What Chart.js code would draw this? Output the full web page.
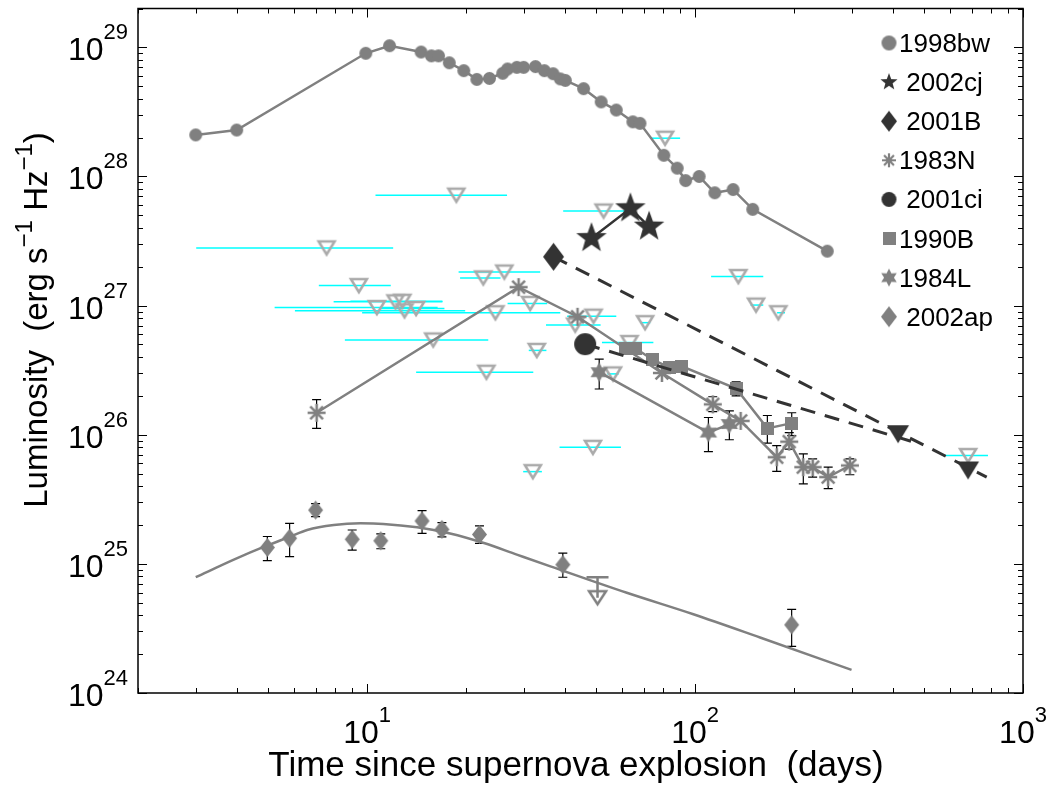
<!DOCTYPE html>
<html>
<head>
<meta charset="utf-8">
<script src="https://cdn.jsdelivr.net/npm/chart.js@4.4.0/dist/chart.umd.min.js"></script>
<style>
  html, body { margin: 0; padding: 0; background: #fff; }
  #wrap { width: 1052px; height: 788px; }
</style>
</head>
<body>
<div id="wrap"><canvas id="grafico" width="1052" height="788"></canvas></div>
<script>
// ---- data (days since explosion, luminosity in erg/s/Hz) ----
const xTickPowers = [1, 2, 3];
const yTickPowers = [24, 25, 26, 27, 28, 29];
const legendLabels = ['1998bw', ' 2002cj', ' 2001B', '1983N', ' 2001ci', '1990B', '1984L', ' 2002ap'];

const bwDays = [3.0, 4.0, 9.9, 11.7, 14.6, 15.7, 16.5, 17.8, 19.7, 21.6, 23.6, 25.9, 26.8, 28.6, 30.0, 32.6, 34.7, 36.9, 38.8, 40.2, 45.7, 51.7, 57.5, 64.6, 67.9, 80.3, 88.2, 93.6, 102.9, 114.8, 130.6, 149.9, 253];
const bwLum = [2.10e28, 2.29e28, 9.0e28, 1.03e29, 9.2e28, 8.6e28, 8.6e28, 7.6e28, 6.6e28, 5.65e28, 5.75e28, 6.3e28, 6.8e28, 7.0e28, 7.0e28, 7.1e28, 6.6e28, 6.25e28, 5.7e28, 5.55e28, 4.79e28, 3.78e28, 3.27e28, 2.65e28, 2.58e28, 1.46e28, 1.16e28, 9.3e27, 1.0e28, 7.48e27, 7.93e27, 5.57e27, 2.64e27];

const cjDays = [48.3, 63.5, 72.4];
const cjLum = [3.33e27, 5.67e27, 4.09e27];

const bDays = [37.0];
const bLum = [2.39e27];
const bTrendDays = [37.0, 775];
const bTrendLum = [2.39e27, 4.7e25];

const ciDays = [46.2];
const ciLum = [5.03e26];
const ciTrendDays = [46.2, 468];
const ciTrendLum = [5.03e26, 8.73e25];

const lateDays = [416, 680];
const lateLum = [1.01e26, 5.29e25];

const nDays = [7.01, 28.96, 43.8, 79.2, 113.2, 137.7, 177.4, 193.7, 213.8, 228.3, 254.6, 296.5];
const nLum = [1.48e26, 1.39e27, 8.2e26, 3.01e26, 1.72e26, 1.28e26, 6.7e25, 8.84e25, 5.61e25, 5.61e25, 4.7e25, 5.78e25];
const nLo = [1.12e26, null, null, null, 1.51e26, null, 5.2e25, 7.75e25, 4.17e25, 4.7e25, 3.82e25, 4.9e25];
const nHi = [1.87e26, null, null, null, 1.97e26, null, 8.23e25, 1.04e26, 7.1e25, 6.5e25, 5.61e25, 6.5e25];

const b90Days = [61.2, 65.7, 74.3, 83.3, 91.1, 133.4, 166.1, 197.1];
const b90Lum = [4.68e26, 4.68e26, 3.81e26, 3.33e26, 3.39e26, 2.28e26, 1.12e26, 1.23e26];
const b90Lo = [null, null, null, null, null, 2.0e26, 8.62e25, 9.83e25];
const b90Hi = [null, null, null, null, null, 2.57e26, 1.41e26, 1.48e26];

const lDays = [51.0, 109.8, 127.2];
const lLum = [3.05e26, 1.04e26, 1.21e26];
const lLo = [2.26e26, 7.4e25, 9.15e25];
const lHi = [3.85e26, 1.36e26, 1.53e26];

const apDays = [4.96, 5.80, 6.96, 9.0, 11.0, 14.7, 16.9, 22.0, 39.5, 197.0];
const apLum = [1.34e25, 1.58e25, 2.61e25, 1.55e25, 1.51e25, 2.15e25, 1.85e25, 1.69e25, 9.86e24, 3.37e24];
const apLo = [1.06e25, 1.14e25, 2.32e25, 1.28e25, 1.31e25, 1.72e25, 1.62e25, 1.44e25, 7.88e24, 2.3e24];
const apHi = [1.63e25, 2.06e25, 2.93e25, 1.83e25, 1.71e25, 2.58e25, 2.09e25, 1.97e25, 1.21e25, 4.45e24];

const apModelDays = [3.0, 3.92, 4.96, 5.80, 6.56, 7.91, 9.54, 11.2, 14.2, 17.9, 22.7, 28.6, 36.2, 61.9, 98.8, 157.8, 300];
const apModelLum = [7.88e24, 1.08e25, 1.39e25, 1.62e25, 1.83e25, 2.0e25, 2.06e25, 2.04e25, 1.92e25, 1.72e25, 1.45e25, 1.18e25, 9.57e24, 5.97e24, 4.07e24, 2.69e24, 1.51e24];

const apLimDays = [50.4];
const apLimLum = [5.47e24];
const apLimTop = [7.87e24];

// upper limits from the survey: triangle + observing window
const limDays = [18.7, 7.52, 9.43, 10.7, 12.2, 12.8, 13.0, 14.1, 15.9, 22.6, 26.2, 24.6, 31.4, 23.1, 32.9, 32.0, 43.1, 49.0, 63.1, 56.2, 70.4, 48.8, 52.6, 81.0, 135.5, 153.4, 179.4, 680];
const limLum = [7.17e27, 2.80e27, 1.43e27, 9.67e26, 1.07e27, 1.08e27, 9.12e26, 9.5e26, 5.42e26, 1.64e27, 1.82e27, 8.81e26, 1.04e27, 3.05e26, 4.5e26, 5.18e25, 7.07e26, 8.29e26, 5.18e26, 2.96e26, 7.38e26, 7.99e25, 5.4e27, 1.98e28, 1.68e27, 1.01e27, 8.81e26, 6.9e25];
const limFrom = [10.6, 3.01, 7.12, 5.22, 7.90, 8.89, 6.02, 11.0, 8.55, 19.2, 19.0, 9.65, 26.8, 14.1, 31.1, 29.9, 35.1, 40.7, 52.0, 54.0, 68.0, 38.6, 39.6, 73.0, 111.9, 147.6, 177.8, 570.6];
const limTo = [26.7, 12.0, 11.8, 16.4, 16.96, 16.96, 19.9, 17.2, 23.4, 25.5, 33.7, 38.8, 35.4, 32.1, 35.2, 34.1, 51.5, 57.5, 74.6, 58.5, 73.0, 59.4, 64.3, 90.0, 161.4, 161.4, 188, 782];

// ---- markers ----
const FONT = '"Liberation Sans", Arial, Helvetica, sans-serif';
const GRAY = '#808080', DARK = '#333333', LIGHT = '#aaaaaa', CYAN = '#00ffff';

function makeMarker(w, h, paint) {
    const c = document.createElement('canvas');
    c.width = w; c.height = h;
    paint(c.getContext('2d'), w, h);
    return c;
}
function circleMarker(d, color) {
    return makeMarker(d + 2, d + 2, (g, w, h) => {
        g.fillStyle = color; g.beginPath(); g.arc(w / 2, h / 2, d / 2, 0, 2 * Math.PI); g.fill();
    });
}
function squareMarker(s, color) {
    return makeMarker(s, s, (g) => { g.fillStyle = color; g.fillRect(0, 0, s, s); });
}
function starMarker(n, rOut, rIn, color) {
    const s = Math.ceil(rOut * 2) + 2;
    return makeMarker(s, s, (g, w, h) => {
        g.fillStyle = color; g.beginPath();
        for (let i = 0; i < 2 * n; i++) {
            const r = i % 2 ? rIn : rOut;
            const a = -Math.PI / 2 + i * Math.PI / n;
            g.lineTo(w / 2 + r * Math.cos(a), h / 2 + r * Math.sin(a));
        }
        g.closePath(); g.fill();
    });
}
function diamondMarker(dw, dh, color) {
    return makeMarker(dw + 2, dh + 2, (g, w, h) => {
        g.fillStyle = color; g.beginPath();
        g.moveTo(w / 2, 1); g.lineTo(w - 1, h / 2); g.lineTo(w / 2, h - 1); g.lineTo(1, h / 2);
        g.closePath(); g.fill();
    });
}
function asteriskMarker(r, color, lw) {
    const s = Math.ceil(r * 2) + 4;
    return makeMarker(s, s, (g, w, h) => {
        g.strokeStyle = color; g.lineWidth = lw; g.beginPath();
        for (let i = 0; i < 4; i++) {
            const a = i * Math.PI / 4;
            g.moveTo(w / 2 - r * Math.cos(a), h / 2 - r * Math.sin(a));
            g.lineTo(w / 2 + r * Math.cos(a), h / 2 + r * Math.sin(a));
        }
        g.stroke();
    });
}
function triangleMarker(tw, th, color, filled, lw) {
    const pad = filled ? 1 : Math.ceil(lw);
    return makeMarker(tw + 2 * pad, th + 2 * pad, (g, w, h) => {
        g.beginPath();
        g.moveTo(pad, pad); g.lineTo(w - pad, pad); g.lineTo(w / 2, h - pad); g.closePath();
        if (filled) { g.fillStyle = color; g.fill(); }
        else { g.strokeStyle = color; g.lineWidth = lw; g.stroke(); }
    });
}

const mk = {
    bw: circleMarker(13, GRAY),
    cj: starMarker(5, 16, 6.6, DARK),
    b: diamondMarker(21, 28, DARK),
    n: asteriskMarker(9, GRAY, 2.5),
    ci: circleMarker(22, DARK),
    b90: squareMarker(13, GRAY),
    l: starMarker(6, 10, 5.5, GRAY),
    ap: diamondMarker(15, 19, GRAY),
    lim: triangleMarker(16, 13, LIGHT, false, 2.5),
    late: triangleMarker(22, 18, DARK, true),
    apLim: triangleMarker(17, 13, GRAY, false, 2.5)
};
const legendMarks = [
    circleMarker(15, GRAY),
    starMarker(5, 9, 3.8, DARK),
    diamondMarker(16, 21, DARK),
    asteriskMarker(7, GRAY, 2.2),
    circleMarker(15, DARK),
    squareMarker(13, GRAY),
    starMarker(6, 9, 4.9, GRAY),
    diamondMarker(16, 21, GRAY)
];

function pts(xs, ys) {
    return xs.map((x, i) => ({ x: x, y: ys[i] }));
}

// text with superscripts: parts = [[text, isSup], ...]
function drawParts(c, parts, x, y, align, base, sup, rise) {
    let total = 0;
    parts.forEach(p => {
        c.font = (p[1] ? sup : base) + 'px ' + FONT;
        total += c.measureText(p[0]).width;
    });
    let cx = align === 'center' ? x - total / 2 : (align === 'right' ? x - total : x);
    c.textAlign = 'left';
    c.textBaseline = 'alphabetic';
    parts.forEach(p => {
        c.font = (p[1] ? sup : base) + 'px ' + FONT;
        c.fillText(p[0], cx, p[1] ? y - rise : y);
        cx += c.measureText(p[0]).width;
    });
}

const extras = {
    id: 'extras',
    beforeDatasetsDraw(chart) {
        const c = chart.ctx, xs = chart.scales.x, ys = chart.scales.y;
        c.save();
        // observing windows of the upper limits
        c.strokeStyle = CYAN;
        c.lineWidth = 1.5;
        for (let i = 0; i < limDays.length; i++) {
            const y = ys.getPixelForValue(limLum[i]);
            c.beginPath();
            c.moveTo(xs.getPixelForValue(limFrom[i]), y);
            c.lineTo(xs.getPixelForValue(limTo[i]), y);
            c.stroke();
        }
        // error bars
        chart.data.datasets.forEach(ds => {
            if (!ds.errLo) return;
            c.strokeStyle = ds.errColor || '#000';
            c.lineWidth = ds.errWidth || 1.2;
            const cap = ds.errCap || 4.5;
            ds.data.forEach((p, i) => {
                const lo = ds.errLo[i], hi = ds.errHi[i];
                if (lo == null || hi == null) return;
                const x = xs.getPixelForValue(p.x);
                const y1 = ys.getPixelForValue(lo), y2 = ys.getPixelForValue(hi);
                c.beginPath();
                c.moveTo(x, y1); c.lineTo(x, y2);
                c.moveTo(x - cap, y2); c.lineTo(x + cap, y2);
                if (ds.errLowCap !== false) { c.moveTo(x - cap, y1); c.lineTo(x + cap, y1); }
                c.stroke();
            });
        });
        c.restore();
    },
    afterDraw(chart) {
        const c = chart.ctx, a = chart.chartArea, xs = chart.scales.x, ys = chart.scales.y;
        c.save();
        c.strokeStyle = '#000';
        c.lineWidth = 1.5;
        c.strokeRect(a.left, a.top, a.right - a.left, a.bottom - a.top);
        c.lineWidth = 1;
        c.beginPath();
        for (let k = 0; k <= 3; k++) {
            for (let m = 1; m <= 9; m++) {
                const v = m * Math.pow(10, k);
                if (v < xs.min || v > xs.max) continue;
                const x = Math.round(xs.getPixelForValue(v)) + 0.5;
                const len = m === 1 ? 9 : 5;
                c.moveTo(x, a.bottom); c.lineTo(x, a.bottom - len);
                c.moveTo(x, a.top); c.lineTo(x, a.top + len);
            }
        }
        for (let k = 24; k <= 29; k++) {
            for (let m = 1; m <= 9; m++) {
                const v = m * Math.pow(10, k);
                if (v < ys.min * 0.999 || v > ys.max) continue;
                const y = Math.round(ys.getPixelForValue(v)) + 0.5;
                const len = m === 1 ? 9 : 5;
                c.moveTo(a.left, y); c.lineTo(a.left + len, y);
                c.moveTo(a.right, y); c.lineTo(a.right - len, y);
            }
        }
        c.stroke();

        c.fillStyle = '#000';
        xTickPowers.forEach(p => {
            drawParts(c, [['10', false], [String(p), true]], xs.getPixelForValue(Math.pow(10, p)), 743, 'center', 32, 22, 21);
        });
        yTickPowers.forEach(p => {
            drawParts(c, [['10', false], [String(p), true]], 128, ys.getPixelForValue(Math.pow(10, p)) + 13, 'right', 32, 22, 21);
        });

        // axis titles
        drawParts(c, [['Time since supernova explosion  (days)', false]], 576, 776, 'center', 35, 24, 0);
        c.save();
        c.translate(47, 320);
        c.rotate(-Math.PI / 2);
        drawParts(c, [['Luminosity  (erg s', false], ['\u22121', true], [' Hz', false], ['\u22121', true], [')', false]], 0, 0, 'center', 33, 24, 15);
        c.restore();

        // legend
        legendLabels.forEach((t, i) => {
            const y = 43 + i * 39.1;
            const m = legendMarks[i];
            c.drawImage(m, 889 - m.width / 2, y - m.height / 2);
            drawParts(c, [[t, false]], 899, y + 9, 'left', 26, 18, 0);
        });
        c.restore();
    }
};

const ctx = document.getElementById('grafico');

new Chart(ctx, {
    type: 'scatter',
    data: {
        datasets: [
            { label: 'late limits', data: pts(lateDays, lateLum), pointStyle: mk.late, pointRadius: 6, order: 1 },
            { label: '2002cj', data: pts(cjDays, cjLum), showLine: true, borderColor: DARK, borderWidth: 2.5, pointStyle: mk.cj, pointRadius: 6, order: 2 },
            { label: '2001B', data: pts(bDays, bLum), pointStyle: mk.b, pointRadius: 6, order: 2 },
            { label: '2001ci', data: pts(ciDays, ciLum), pointStyle: mk.ci, pointRadius: 6, order: 2 },
            { label: '2001B trend', data: pts(bTrendDays, bTrendLum), showLine: true, borderColor: DARK, borderWidth: 3, borderDash: [15, 10], pointRadius: 0, order: 3 },
            { label: '2001ci trend', data: pts(ciTrendDays, ciTrendLum), showLine: true, borderColor: DARK, borderWidth: 3, borderDash: [15, 10], pointRadius: 0, order: 3 },
            { label: '1990B', data: pts(b90Days, b90Lum), showLine: true, borderColor: GRAY, borderWidth: 2.5, pointStyle: mk.b90, pointRadius: 5, errLo: b90Lo, errHi: b90Hi, order: 4 },
            { label: '1983N', data: pts(nDays, nLum), showLine: true, borderColor: GRAY, borderWidth: 2.5, pointStyle: mk.n, pointRadius: 5, errLo: nLo, errHi: nHi, order: 5 },
            { label: '1984L', data: pts(lDays, lLum), showLine: true, borderColor: GRAY, borderWidth: 2.5, pointStyle: mk.l, pointRadius: 5, errLo: lLo, errHi: lHi, order: 5 },
            { label: '1998bw', data: pts(bwDays, bwLum), showLine: true, borderColor: GRAY, borderWidth: 2.5, pointStyle: mk.bw, pointRadius: 5, order: 5 },
            { label: '2002ap', data: pts(apDays, apLum), pointStyle: mk.ap, pointRadius: 5, errLo: apLo, errHi: apHi, order: 5 },
            { label: '2002ap model', data: pts(apModelDays, apModelLum), showLine: true, borderColor: GRAY, borderWidth: 2.5, cubicInterpolationMode: 'monotone', pointRadius: 0, order: 6 },
            { label: '2002ap limit', data: pts(apLimDays, apLimLum), pointStyle: mk.apLim, pointRadius: 5, errLo: apLimLum, errHi: apLimTop, errColor: GRAY, errWidth: 2.5, errCap: 11, errLowCap: false, order: 6 },
            { label: 'limits', data: pts(limDays, limLum), pointStyle: mk.lim, pointRadius: 5, order: 8 }
        ]
    },
    options: {
        responsive: false,
        animation: false,
        layout: { padding: { left: 138, right: 29, top: 3, bottom: 95 } },
        scales: {
            x: { type: 'logarithmic', min: 2, max: 1000, display: false },
            y: { type: 'logarithmic', min: 1e24, max: 2e29, display: false }
        },
        plugins: {
            legend: { display: false },
            tooltip: { enabled: false }
        }
    },
    plugins: [extras]
});
</script>
</body>
</html>
